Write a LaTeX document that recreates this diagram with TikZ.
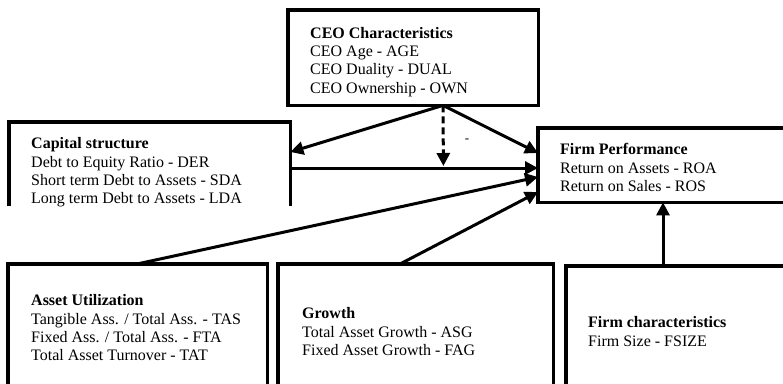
\documentclass[tikz,border=0pt]{standalone}
\usepackage{fontspec}
\setmainfont{Liberation Serif}
\usetikzlibrary{arrows.meta,calc}
\begin{document}
\begin{tikzpicture}[x=1pt,y=-1pt,
  boxline/.style={line width=3.4pt},
  frame/.style={draw=none,rectangle,anchor=north west,inner sep=0pt},
  label/.style={anchor=north west,inner sep=0pt,align=left,font=\fontsize{16}{18.3}\selectfont},
  conn/.style={line width=3pt,-{Triangle[length=13pt,width=13pt]}},
  dashconn/.style={conn,dash pattern=on 7pt off 4pt}]
\useasboundingbox (0,0) rectangle (783,383);
\clip (0,0) rectangle (783,383);
% boxes
\node[frame,minimum width=250pt,minimum height=95pt] (ceo) at (288,10) {};
\node[frame,minimum width=281pt,minimum height=84pt] (cap) at (9,122) {};
\node[frame,minimum width=262pt,minimum height=74pt] (fp) at (538,128) {};
\node[frame,minimum width=259pt,minimum height=136pt] (au) at (8,264) {};
\node[frame,minimum width=275pt,minimum height=136pt] (gr) at (278,264) {};
\node[frame,minimum width=234pt,minimum height=134pt] (fc) at (566,266) {};
\draw[boxline] (ceo.north west) rectangle (ceo.south east);
\draw[boxline] (fp.north west) rectangle (fp.south east);
\draw[boxline] (cap.south west) |- (cap.north east) -- (cap.south east);
\draw[boxline] (au.south west) |- (au.north east) -- (au.south east);
\draw[boxline] (gr.south west) |- (gr.north east) -- (gr.south east);
\draw[boxline] (fc.south west) |- (fc.north east) -- (fc.south east);
% texts
\node[label] (ceot) at (310,27) {\textbf{CEO Characteristics}\\CEO Age - AGE\\CEO Duality - DUAL\\CEO Ownership - OWN};
\node[label] (capt) at (31,137.5) {\textbf{Capital structure}\\Debt to Equity Ratio - DER\\Short term Debt to Assets - SDA\\Long term Debt to Assets - LDA};
\node[label] (fpt) at (560,143.5) {\textbf{Firm Performance}\\Return on Assets - ROA\\Return on Sales - ROS};
\node[label] (aut) at (31,294.5) {\textbf{Asset Utilization}\\Tangible Ass. / Total Ass. - TAS\\Fixed Ass. / Total Ass. - FTA\\Total Asset Turnover - TAT};
\node[label] (grt) at (302,307.5) {\textbf{Growth}\\Total Asset Growth - ASG\\Fixed Asset Growth - FAG};
\node[label] (fct) at (588,316.5) {\textbf{Firm characteristics}\\Firm Size - FSIZE};
% connectors
\coordinate (ceoout) at ($(ceo.south west)+(155,0)$);
\coordinate (midhit) at ($(cap.north east)+(153,44)$);
\draw[conn] (ceoout) -- ($(cap.north east)+(0,30)$);
\draw[conn] (ceoout) -- ($(fp.north west)+(0,25)$);
\draw[dashconn] (ceoout) -- (midhit);
\draw[conn] ($(cap.north east)+(0,46)$) -- ($(fp.north west)+(0,40)$);
\draw[conn] ($(au.north west)+(129,0)$) -- ($(fp.north west)+(0,49)$);
\draw[conn] ($(gr.north west)+(122,0)$) -- ($(fp.north west)+(0,64)$);
\draw[conn] ($(fc.north west)+(97,0)$) -- ($(fp.south west)+(125,0)$);
\node[font=\fontsize{13}{15}\selectfont,inner sep=0pt] (minus) at (467,141) {-};
\end{tikzpicture}
\end{document}
